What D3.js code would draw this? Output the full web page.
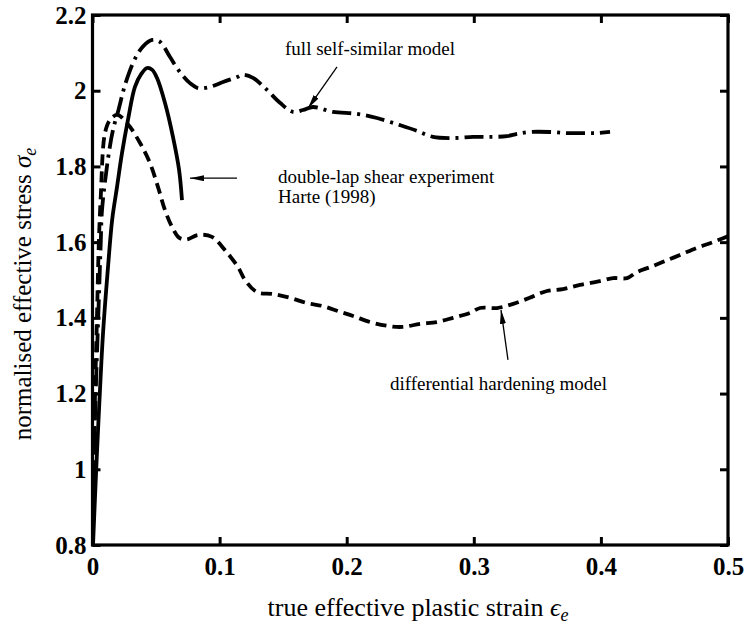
<!DOCTYPE html>
<html><head><meta charset="utf-8">
<script src="https://cdn.jsdelivr.net/npm/d3@7/dist/d3.min.js"></script>
<style>body{margin:0;background:#fff}svg{display:block}</style>
</head><body><svg id="c" width="745" height="639"></svg>
<script>
// ---- data ----
const xTicks = [0, 0.1, 0.2, 0.3, 0.4, 0.5];
const xTickLabels = ["0", "0.1", "0.2", "0.3", "0.4", "0.5"];
const yTicks = [0.8, 1, 1.2, 1.4, 1.6, 1.8, 2, 2.2];
const yTickLabels = ["0.8", "1", "1.2", "1.4", "1.6", "1.8", "2", "2.2"];

// double-lap shear experiment, Harte (1998) - solid
const expStrain = [0.0004, 0.0030, 0.0055, 0.0083, 0.0122, 0.0155, 0.0193, 0.0232, 0.0279, 0.0334, 0.0385, 0.0429, 0.0470, 0.0507, 0.0570, 0.0633, 0.0681, 0.0704];
const expStress = [0.80, 1.006, 1.183, 1.360, 1.534, 1.660, 1.746, 1.835, 1.923, 2.010, 2.045, 2.060, 2.055, 2.034, 1.968, 1.878, 1.791, 1.711];

// full self-similar model - dash-dot
const selfStrain = [0.0005, 0.0025, 0.0045, 0.0065, 0.0075, 0.0122, 0.0161, 0.0205, 0.0260, 0.0335, 0.0400, 0.0470, 0.0531, 0.0610, 0.0688, 0.0767, 0.0830, 0.0924, 0.1027, 0.1137, 0.1184, 0.1263, 0.1373, 0.1475, 0.1578, 0.1656, 0.1735, 0.1892, 0.2081, 0.2238, 0.2419, 0.2553, 0.2679, 0.2837, 0.2994, 0.3128, 0.3262, 0.3340, 0.3442, 0.3600, 0.3733, 0.3859, 0.3970, 0.4072];
const selfStress = [0.95, 1.20, 1.40, 1.60, 1.685, 1.820, 1.896, 1.950, 2.020, 2.085, 2.118, 2.134, 2.129, 2.089, 2.049, 2.020, 2.007, 2.010, 2.023, 2.036, 2.042, 2.034, 2.002, 1.968, 1.944, 1.949, 1.957, 1.944, 1.939, 1.928, 1.909, 1.894, 1.878, 1.875, 1.878, 1.878, 1.880, 1.886, 1.891, 1.891, 1.888, 1.888, 1.888, 1.891];

// differential hardening model - dashed
const diffStrain = [0.0005, 0.0020, 0.0035, 0.0050, 0.0065, 0.0098, 0.0138, 0.0195, 0.0271, 0.0374, 0.0452, 0.0515, 0.0570, 0.0626, 0.0680, 0.0740, 0.0830, 0.0940, 0.1042, 0.1145, 0.1200, 0.1294, 0.1420, 0.1554, 0.1688, 0.1814, 0.1947, 0.2050, 0.2184, 0.2317, 0.2435, 0.2577, 0.2710, 0.2836, 0.2970, 0.3049, 0.3183, 0.3310, 0.3440, 0.3576, 0.3702, 0.3836, 0.3993, 0.4096, 0.4206, 0.4284, 0.4387, 0.4490, 0.4622, 0.4756, 0.4882, 0.5000];
const diffStress = [0.95, 1.20, 1.40, 1.60, 1.72, 1.888, 1.923, 1.936, 1.915, 1.862, 1.809, 1.746, 1.685, 1.640, 1.612, 1.607, 1.619, 1.614, 1.579, 1.534, 1.500, 1.468, 1.463, 1.453, 1.439, 1.431, 1.416, 1.405, 1.389, 1.379, 1.376, 1.384, 1.389, 1.400, 1.413, 1.426, 1.426, 1.437, 1.453, 1.471, 1.476, 1.487, 1.497, 1.505, 1.505, 1.521, 1.534, 1.548, 1.566, 1.585, 1.600, 1.616];

// annotations (data coordinates)
const labelTexts = ["full self-similar model", "double-lap shear experiment", "Harte (1998)", "differential hardening model"];
const labelX = [0.1515, 0.146, 0.146, 0.234];
const labelY = [2.094, 1.756, 1.703, 1.2095];
const arrowFromX = [0.1924, 0.1137, 0.3269];
const arrowFromY = [2.063, 1.769, 1.289];
const arrowToX = [0.1696, 0.0767, 0.3214];
const arrowToY = [1.954, 1.769, 1.421];

// ---- layout ----
const W = 745, H = 639;
const margin = {left: 92.5, right: 17, top: 15, bottom: 94};
const svg = d3.select("#c");
svg.append("rect").attr("width", W).attr("height", H).attr("fill", "#fff");
const iw = W - margin.left - margin.right, ih = H - margin.top - margin.bottom;
const g = svg.append("g").attr("transform", `translate(${margin.left},${margin.top})`);

const x = d3.scaleLinear().domain([0, 0.5]).range([0, iw]);
const y = d3.scaleLinear().domain([0.8, 2.2]).range([ih, 0]);

const tickFont = "'Liberation Serif','Times New Roman',serif";

function styleAxis(sel, showLabels) {
  sel.select(".domain").remove();
  sel.selectAll(".tick line").attr("stroke", "#000").attr("stroke-width", 3);
  sel.selectAll(".tick text")
    .attr("font-family", tickFont).attr("font-weight", "bold").attr("font-size", 25).attr("fill", "#000")
    .style("display", showLabels ? null : "none");
}

const xAxis = d3.axisBottom(x).tickValues(xTicks).tickFormat((d, i) => xTickLabels[i]).tickSizeInner(-8).tickSizeOuter(0).tickPadding(12);
const yAxis = d3.axisLeft(y).tickValues(yTicks).tickFormat((d, i) => yTickLabels[i]).tickSizeInner(-8).tickSizeOuter(0).tickPadding(6);
g.append("g").attr("transform", `translate(0,${ih})`).call(xAxis).call(s => styleAxis(s, true));
g.append("g").call(yAxis).call(s => styleAxis(s, true));
g.append("g").call(d3.axisTop(x).tickValues(xTicks).tickSizeInner(-8).tickSizeOuter(0)).call(s => styleAxis(s, false));
g.append("g").attr("transform", `translate(${iw},0)`).call(d3.axisRight(y).tickValues(yTicks).tickSizeInner(-8).tickSizeOuter(0)).call(s => styleAxis(s, false));

// frame
g.append("rect").attr("x", 0).attr("y", 0).attr("width", iw).attr("height", ih)
  .attr("fill", "none").attr("stroke", "#000").attr("stroke-width", 3.2);

// curves
const line = d3.line().x(d => x(d[0])).y(d => y(d[1])).curve(d3.curveCatmullRom.alpha(0.5));
function series(xs, ys) { return xs.map((v, i) => [v, ys[i]]); }

g.append("path").datum(series(diffStrain, diffStress)).attr("d", line)
  .attr("fill", "none").attr("stroke", "#000").attr("stroke-width", 3.8).attr("stroke-dasharray", "11,6");
g.append("path").datum(series(selfStrain, selfStress)).attr("d", line)
  .attr("fill", "none").attr("stroke", "#000").attr("stroke-width", 3.8).attr("stroke-dasharray", "19,6,3,6");
g.append("path").datum(series(expStrain, expStress)).attr("d", line)
  .attr("fill", "none").attr("stroke", "#000").attr("stroke-width", 3.8);

// arrows
const defs = svg.append("defs");
defs.append("marker").attr("id", "ah").attr("viewBox", "0 0 14 6").attr("refX", 14).attr("refY", 3)
  .attr("markerWidth", 14).attr("markerHeight", 6).attr("markerUnits", "userSpaceOnUse").attr("orient", "auto")
  .append("path").attr("d", "M0,0 L14,3 L0,6 Z").attr("fill", "#000");
arrowFromX.forEach((v, i) => {
  g.append("line").attr("x1", x(v)).attr("y1", y(arrowFromY[i])).attr("x2", x(arrowToX[i])).attr("y2", y(arrowToY[i]))
    .attr("stroke", "#000").attr("stroke-width", 1.3).attr("marker-end", "url(#ah)");
});

// annotation labels
labelTexts.forEach((t, i) => {
  g.append("text").attr("x", x(labelX[i])).attr("y", y(labelY[i])).text(t)
    .attr("font-family", tickFont).attr("font-size", 19).attr("fill", "#000");
});

// axis titles
const xt = svg.append("text").attr("x", 418).attr("y", 616).attr("text-anchor", "middle")
  .attr("font-family", tickFont).attr("font-size", 26).attr("fill", "#000");
xt.append("tspan").text("true effective plastic strain ");
xt.append("tspan").attr("font-style", "italic").text("\u03F5");
xt.append("tspan").attr("font-style", "italic").attr("font-size", 18).attr("dy", 5).text("e");

const yt = svg.append("text").attr("transform", `translate(31,294) rotate(-90)`).attr("text-anchor", "middle")
  .attr("font-family", tickFont).attr("font-size", 25).attr("fill", "#000");
yt.append("tspan").text("normalised effective stress ");
yt.append("tspan").attr("font-style", "italic").text("\u03C3");
yt.append("tspan").attr("font-style", "italic").attr("font-size", 18).attr("dy", 5).text("e");
</script>
</body></html>
